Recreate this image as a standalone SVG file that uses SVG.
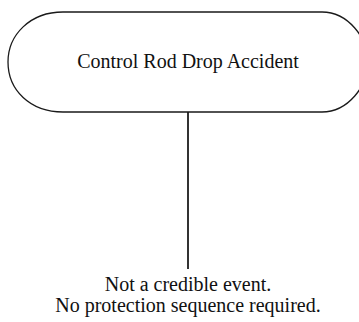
<svg xmlns="http://www.w3.org/2000/svg" width="359" height="322" viewBox="0 0 359 322">
<style>
.shape{fill:#fff;stroke:#1a1a1a;stroke-width:1.3}
.conn{stroke:#333;stroke-width:2;fill:none}
.t{font-family:'Liberation Serif','Times New Roman',Times,serif;font-size:20px;fill:#111;text-anchor:middle}
</style>
<rect width="359" height="322" fill="#fff"/>
<g id="connectors">
<line class="conn" x1="188" y1="112" x2="188" y2="269"/>
</g>
<g id="node-accident">
<path class="shape" d="M 63 12 L 322 12 C 348 12 368 38 368 62 C 368 86 348 112 322 112 L 63 112 C 30 112 8 90 8 62 C 8 35 30 12 63 12 Z"/>
<text class="t" x="188" y="68">Control Rod Drop Accident</text>
</g>
<g id="node-result">
<text class="t" x="188" y="291">Not a credible event.</text>
<text class="t" x="188" y="312">No protection sequence required.</text>
</g>
</svg>
